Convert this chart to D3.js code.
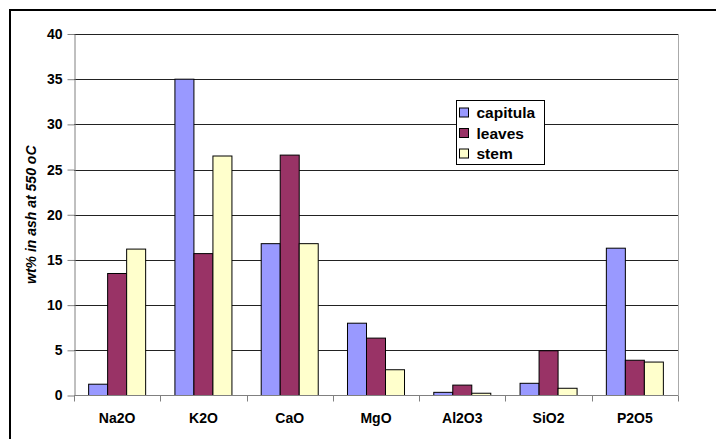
<!DOCTYPE html>
<html>
<head>
<meta charset="utf-8">
<script src="https://cdn.jsdelivr.net/npm/d3@7"></script>
<style>
  body { margin: 0; background: #fff; }
  svg { display: block; font-family: Arial, "Liberation Sans", sans-serif; }
</style>
</head>
<body>
<script>
// Oxide composition of ash, by plant part
const oxides = ["Na2O", "K2O", "CaO", "MgO", "Al2O3", "SiO2", "P2O5"];
const parts = ["capitula", "leaves", "stem"];
const capitula = [1.25, 35.0, 16.8, 8.0, 0.35, 1.35, 16.3];
const leaves = [13.5, 15.7, 26.6, 6.35, 1.15, 4.95, 3.9];
const stem = [16.2, 26.5, 16.8, 2.85, 0.25, 0.8, 3.7];
const yTicks = [0, 5, 10, 15, 20, 25, 30, 35, 40];

const series = [capitula, leaves, stem];
const colors = ["#9999ff", "#993366", "#ffffcc"];

const width = 716;
const height = 439;
const marginTop = 34;
const marginRight = 38;
const marginBottom = 43.5;
const marginLeft = 74;

const svg = d3.select("body").append("svg")
  .attr("width", width)
  .attr("height", height);

// outer chart border (runs off the right and bottom edges)
svg.append("rect")
  .attr("x", 10).attr("y", 10)
  .attr("width", width + 10).attr("height", height + 10)
  .attr("fill", "none")
  .attr("stroke", "#000")
  .attr("stroke-width", 2);

const x = d3.scaleBand()
  .domain(oxides)
  .range([marginLeft, width - marginRight]);

const xInner = d3.scaleBand()
  .domain(parts)
  .range([0, x.bandwidth()])
  .paddingOuter(0.77);

const y = d3.scaleLinear()
  .domain([0, 40])
  .range([height - marginBottom, marginTop]);

// gridlines
svg.append("g")
  .selectAll("line")
  .data(yTicks.filter(d => d > 0))
  .join("line")
  .attr("x1", marginLeft)
  .attr("x2", width - marginRight)
  .attr("y1", d => Math.round(y(d)) + 0.5)
  .attr("y2", d => Math.round(y(d)) + 0.5)
  .attr("stroke", "#222")
  .attr("stroke-width", 1);

// right plot border
svg.append("line")
  .attr("x1", width - marginRight + 0.5)
  .attr("x2", width - marginRight + 0.5)
  .attr("y1", marginTop)
  .attr("y2", height - marginBottom)
  .attr("stroke", "#aaa");

// bars
svg.append("g")
  .selectAll("g")
  .data(series)
  .join("g")
  .attr("fill", (d, i) => colors[i])
  .selectAll("rect")
  .data((vals, i) => vals.map((v, j) => ({ oxide: oxides[j], part: parts[i], value: v })))
  .join("rect")
  .attr("x", d => x(d.oxide) + xInner(d.part))
  .attr("y", d => y(d.value))
  .attr("width", xInner.bandwidth())
  .attr("height", d => y(0) - y(d.value))
  .attr("stroke", "#000")
  .attr("stroke-width", 1);

// y axis
const yAxis = svg.append("g")
  .attr("transform", `translate(${marginLeft + 0.5},0)`)
  .call(d3.axisLeft(y).tickValues(yTicks).tickSize(7).tickPadding(5).tickSizeOuter(0));
yAxis.select(".domain").attr("stroke", "#808080");
yAxis.selectAll(".tick line").attr("stroke", "#808080");
yAxis.selectAll("text")
  .attr("font-size", 14)
  .attr("font-weight", "bold")
  .attr("font-family", "Arial, 'Liberation Sans', sans-serif")
  .attr("fill", "#000");

// x axis with ticks at category boundaries
const xAxis = svg.append("g")
  .attr("transform", `translate(0,${y(0)})`);
xAxis.append("line")
  .attr("x1", marginLeft).attr("x2", width - marginRight)
  .attr("stroke", "#808080");
xAxis.selectAll(".bound")
  .data(oxides.concat(["end"]))
  .join("line")
  .attr("class", "bound")
  .attr("x1", (d, i) => Math.round(marginLeft + i * x.step()) + 0.5)
  .attr("x2", (d, i) => Math.round(marginLeft + i * x.step()) + 0.5)
  .attr("y1", 0).attr("y2", 6)
  .attr("stroke", "#808080");
xAxis.selectAll("text")
  .data(oxides)
  .join("text")
  .attr("x", d => x(d) + x.bandwidth() / 2)
  .attr("y", 27.5)
  .attr("text-anchor", "middle")
  .attr("font-size", 14)
  .attr("font-weight", "bold")
  .text(d => d);

// y axis title
svg.append("text")
  .attr("transform", `translate(36,${(marginTop + height - marginBottom) / 2}) rotate(-90)`)
  .attr("text-anchor", "middle")
  .attr("font-size", 14)
  .attr("font-weight", "bold")
  .attr("font-style", "italic")
  .text("wt% in ash at 550 oC");

// legend
const legend = svg.append("g")
  .attr("transform", "translate(456.5,100.5)");
legend.append("rect")
  .attr("width", 88)
  .attr("height", 64)
  .attr("fill", "#fff")
  .attr("stroke", "#000");
const items = legend.selectAll(".item")
  .data(parts)
  .join("g")
  .attr("class", "item")
  .attr("transform", (d, i) => `translate(0,${12 + i * 20.5})`);
items.append("rect")
  .attr("x", 3).attr("y", -4.5)
  .attr("width", 9).attr("height", 9)
  .attr("fill", (d, i) => colors[i])
  .attr("stroke", "#000");
items.append("text")
  .attr("x", 20)
  .attr("y", 5.5)
  .attr("font-size", 15.5)
  .attr("font-weight", "bold")
  .text(d => d);
</script>
</body>
</html>
